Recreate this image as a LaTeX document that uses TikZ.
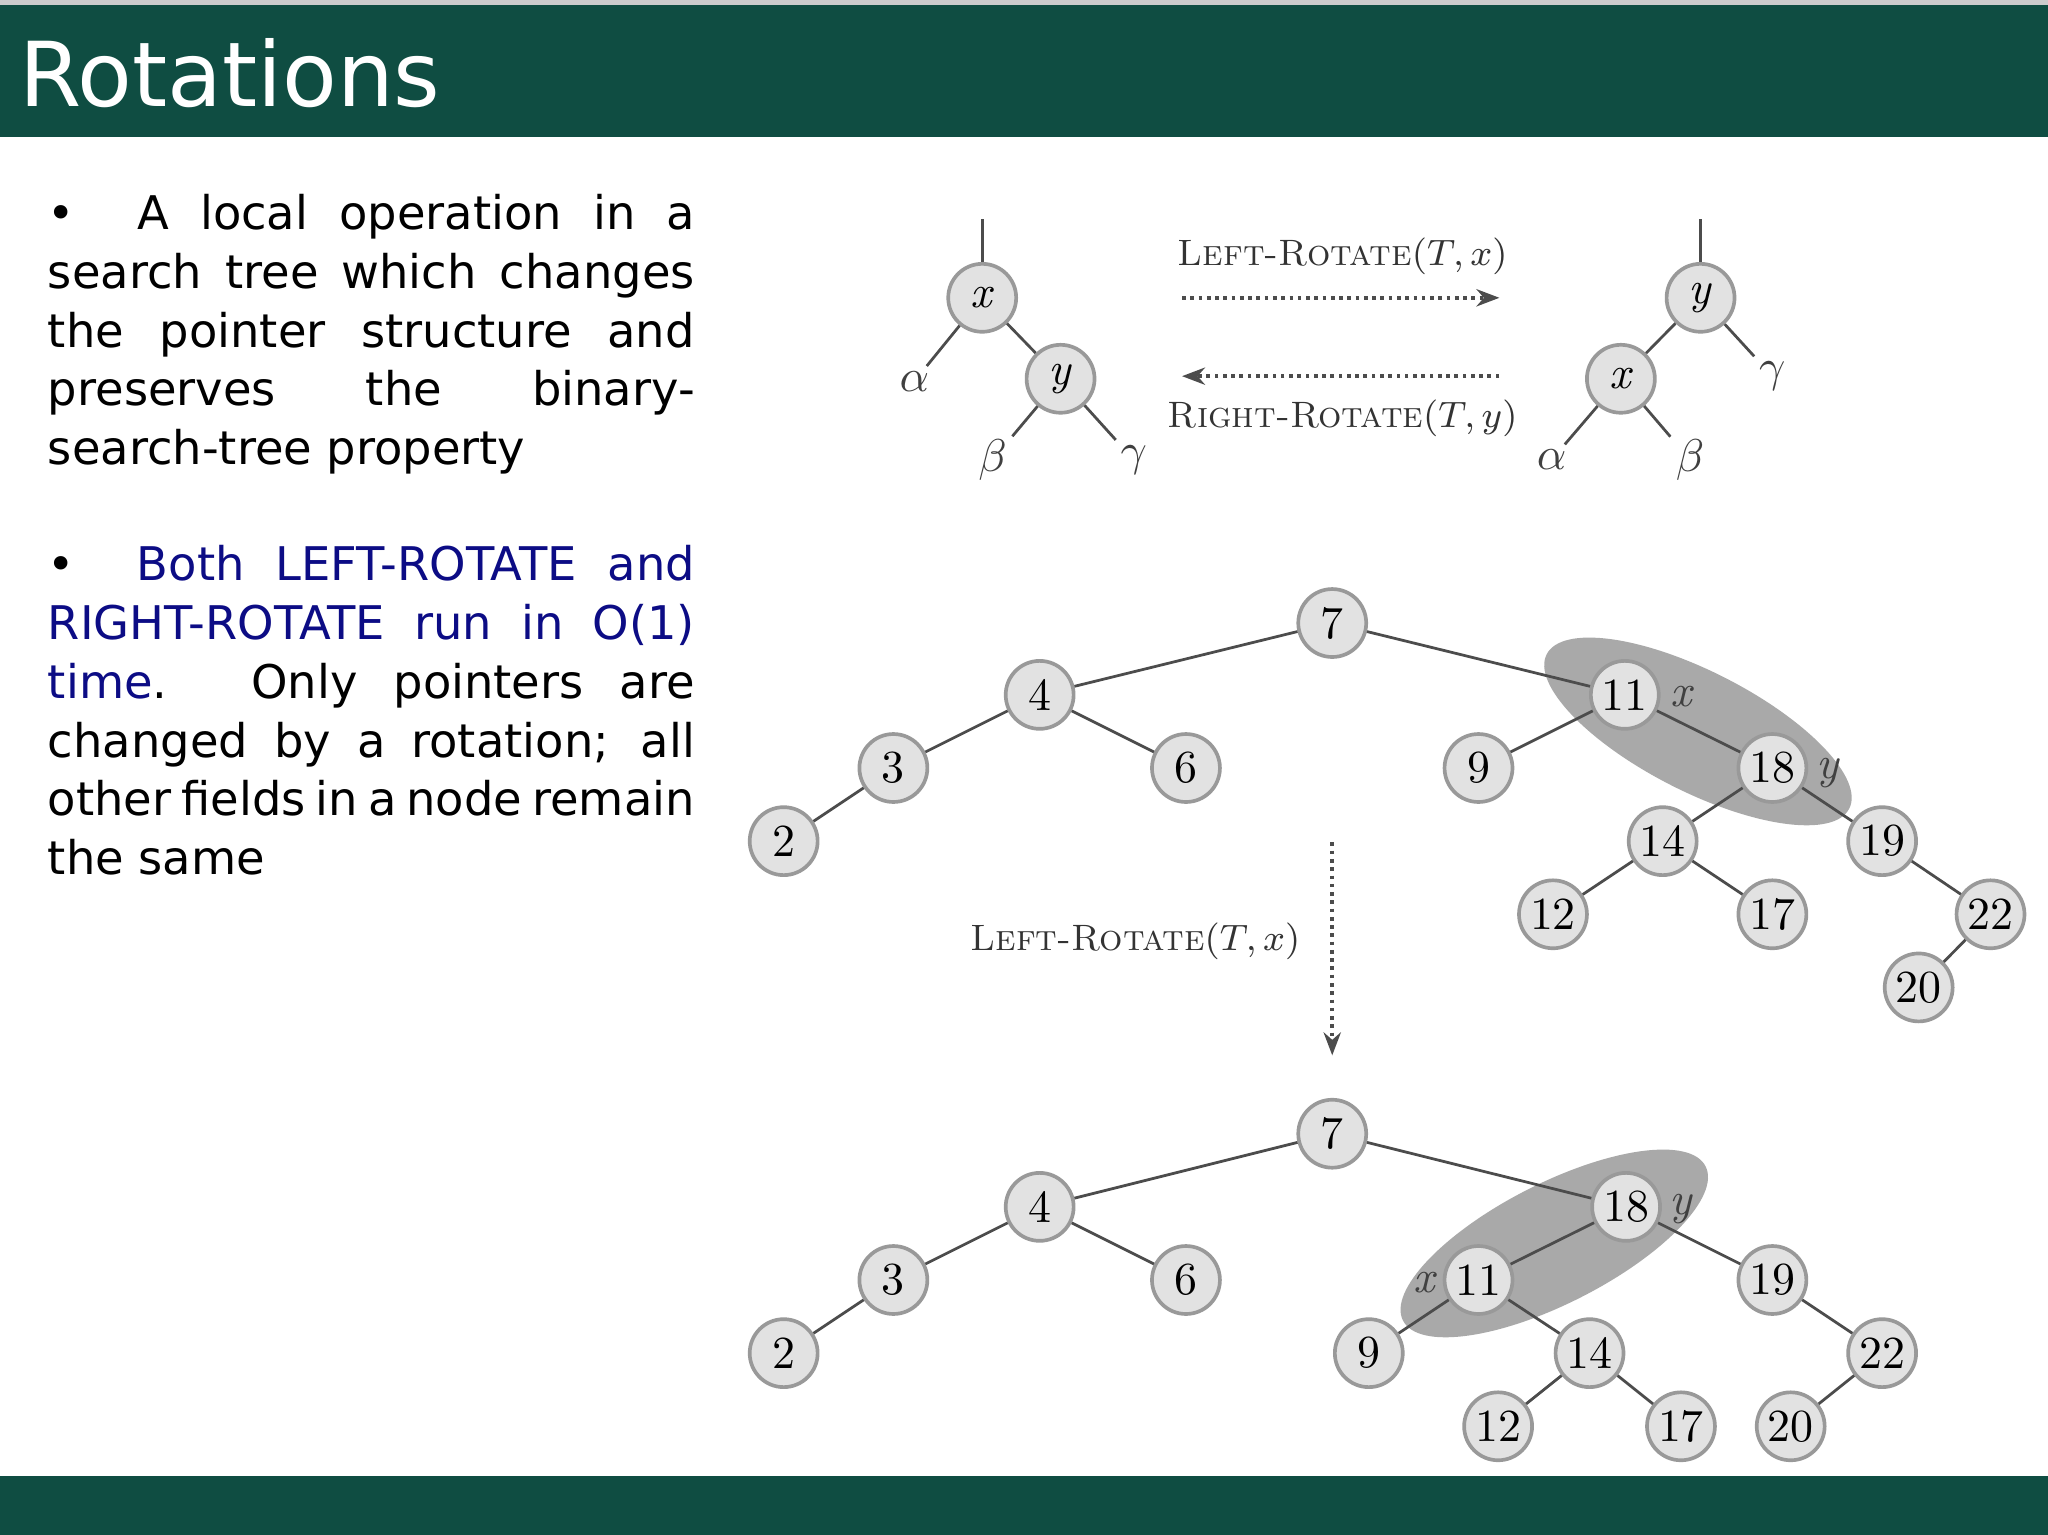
\documentclass[tikz,border=0pt]{standalone}
\usepackage{fontspec}
\setsansfont{DejaVu Sans}
\usetikzlibrary{arrows.meta}
\definecolor{bar}{HTML}{0F4D42}
\definecolor{navy}{HTML}{0C0C85}
\definecolor{nodefill}{HTML}{E2E2E2}
\definecolor{ell}{HTML}{A9A9A9}
\newcommand\mybodyset{\hyphenpenalty=10000 \emergencystretch=3em\relax}
\tikzset{
 tn/.style={circle,draw=gray!80,fill=nodefill,line width=0.8pt,minimum size=0.52cm,inner sep=0pt,font=\fontsize{10}{10}\selectfont},
 edge/.style={gray!60!black,line width=0.6pt},
 dots/.style={densely dotted,line width=0.8pt,gray!60!black,-{Stealth[length=5pt]}},
 lab/.style={font=\fontsize{10}{10}\selectfont\itshape,text=gray!50!black,inner sep=1pt},
 opl/.style={font=\fontsize{8}{8}\selectfont,text=gray!40!black},
 body/.style={font=\sffamily\fontsize{10.1}{12.8}\selectfont,text width=4.95cm,align=justify,anchor=north west,inner sep=0pt}
}
\begin{document}
\begin{tikzpicture}[x=0.01cm,y=-0.01cm]
\useasboundingbox (0,0) rectangle (1568,1175);
\fill[white] (0,0) rectangle (1568,1175);
\fill[bar] (0,4) rectangle (1568,105);
\fill[gray!40] (0,0) rectangle (1568,4);
\fill[bar] (0,1130) rectangle (1568,1175);
\node[anchor=west,text=white,font=\sffamily\fontsize{19.5}{19.5}\selectfont,inner sep=0pt] (title) at (14,56) {Rotations};
\node[body] (p1) at (36,148) {\mybodyset\textbullet~ A local operation in a search tree which changes the pointer structure and preserves the binary-\linebreak search-tree property};
\node[body] (p2) at (36,417) {\mybodyset\textbullet~ \textcolor{navy}{Both LEFT-ROTATE and RIGHT-ROTATE run in O(1) time}. Only pointers are changed by a rotation; all other fields in a node remain the same};

% top small diagram
\node[tn] (ax) at (752,228) {\textit{x}};
\node[tn] (ay) at (812,290) {\textit{y}};
\coordinate (atop) at (752,168);
\node[lab] (aal) at (700,292) {$\alpha$};
\node[lab] (abe) at (760,352) {$\beta$};
\node[lab] (aga) at (868,352) {$\gamma$};
\draw[edge] (atop)--(ax); \draw[edge] (ax)--(aal); \draw[edge] (ax)--(ay);
\draw[edge] (ay)--(abe); \draw[edge] (ay)--(aga);
\node[tn] (by) at (1302,228) {\textit{y}};
\node[tn] (bx) at (1241,290) {\textit{x}};
\coordinate (btop) at (1302,168);
\node[lab] (bal) at (1188,352) {$\alpha$};
\node[lab] (bbe) at (1294,352) {$\beta$};
\node[lab] (bga) at (1357,288) {$\gamma$};
\draw[edge] (btop)--(by); \draw[edge] (by)--(bx); \draw[edge] (by)--(bga);
\draw[edge] (bx)--(bal); \draw[edge] (bx)--(bbe);
\coordinate (l1) at (905,228); \coordinate (r1) at (1148,228);
\coordinate (l2) at (905,288); \coordinate (r2) at (1148,288);
\draw[dots] (l1)--(r1);
\draw[dots] (r2)--(l2);
\node[opl] (lr) at (1028,196) {\textsc{Left-Rotate}$(T,x)$};
\node[opl] (rr) at (1028,320) {\textsc{Right-Rotate}$(T,y)$};

% tree 1
\fill[ell,rotate around={-27:(1300,560)}] (1300,560) ellipse (130 and 46);
\begin{scope}[every node/.style=tn]
\node (a7) at (1020,477) {7};
\node (a4) at (796,532) {4};
\node (a3) at (684,588) {3};
\node (a2) at (600,644) {2};
\node (a6) at (908,588) {6};
\node (a11) at (1244,532) {11};
\node (a9) at (1132,588) {9};
\node (a18) at (1357,588) {18};
\node (a14) at (1273,644) {14};
\node (a12) at (1189,700) {12};
\node (a17) at (1357,700) {17};
\node (a19) at (1441,644) {19};
\node (a22) at (1524,700) {22};
\node (a20) at (1469,756) {20};
\end{scope}
\foreach \a/\b in {a7/a4,a4/a3,a3/a2,a4/a6,a7/a11,a11/a9,a11/a18,a18/a14,a14/a12,a14/a17,a18/a19,a19/a22,a22/a20}
 \draw[edge] (\a)--(\b);
\node[lab] (ax1) at (1287,533) {x};
\node[lab] (ay1) at (1399,592) {y};

\coordinate (d1) at (1020,645); \coordinate (d2) at (1020,808);
\draw[dots] (d1)--(d2);
\node[opl,anchor=east] (lr2) at (1008,721) {\textsc{Left-Rotate}$(T,x)$};

% tree 2
\fill[ell,rotate around={27:(1190,952)}] (1190,952) ellipse (130 and 46);
\begin{scope}[every node/.style=tn]
\node (b7) at (1020,868) {7};
\node (b4) at (796,924) {4};
\node (b3) at (684,980) {3};
\node (b2) at (600,1036) {2};
\node (b6) at (908,980) {6};
\node (b18) at (1245,924) {18};
\node (b11) at (1132,980) {11};
\node (b9) at (1048,1036) {9};
\node (b14) at (1217,1036) {14};
\node (b12) at (1147,1092) {12};
\node (b17) at (1287,1092) {17};
\node (b19) at (1357,980) {19};
\node (b22) at (1441,1036) {22};
\node (b20) at (1371,1092) {20};
\end{scope}
\foreach \a/\b in {b7/b4,b4/b3,b3/b2,b4/b6,b7/b18,b18/b11,b11/b9,b11/b14,b14/b12,b14/b17,b18/b19,b19/b22,b22/b20}
 \draw[edge] (\a)--(\b);
\node[lab] (bx2) at (1090,982) {x};
\node[lab] (by2) at (1287,926) {y};
\end{tikzpicture}
\end{document}
